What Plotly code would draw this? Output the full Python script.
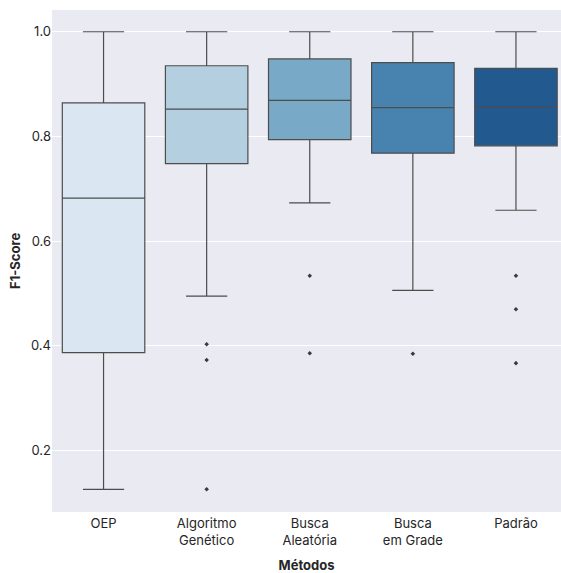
import plotly.graph_objects as go

categories = ["OEP", "Algoritmo<br>Genético", "Busca<br>Aleatória", "Busca<br>em Grade", "Padrão"]
q1 = [0.387, 0.748, 0.794, 0.768, 0.782]
median = [0.682, 0.852, 0.869, 0.855, 0.856]
q3 = [0.864, 0.935, 0.948, 0.941, 0.930]
lower = [0.126, 0.495, 0.673, 0.506, 0.659]
upper = [1.0, 1.0, 1.0, 1.0, 1.0]
outliers = [[], [0.403, 0.373, 0.126], [0.534, 0.386], [0.385], [0.534, 0.470, 0.367]]
colors = ["#dae6f1", "#b3cfe0", "#78a9c7", "#4883b0", "#22598f"]

fig = go.Figure()
for i, cat in enumerate(categories):
    fig.add_trace(go.Box(
        x=[i], q1=[q1[i]], median=[median[i]], q3=[q3[i]],
        lowerfence=[lower[i]], upperfence=[upper[i]],
        fillcolor=colors[i], line=dict(color="#4d4d4d", width=1.2),
        width=0.8, whiskerwidth=0.5, boxpoints=False, showlegend=False,
        hoverinfo="skip",
    ))
    if outliers[i]:
        fig.add_trace(go.Scatter(
            x=[i] * len(outliers[i]), y=outliers[i], mode="markers",
            marker=dict(symbol="diamond", size=3.5, color="#3a3a3a"),
            showlegend=False, hoverinfo="skip",
        ))

font = "Inter, Lato, sans-serif"
fig.update_layout(
    width=561, height=573,
    margin=dict(l=52, r=0, t=10, b=61),
    paper_bgcolor="white", plot_bgcolor="#eaeaf2",
    font=dict(family=font, size=13, color="#262626"),
    xaxis=dict(
        tickmode="array", tickvals=list(range(len(categories))), ticktext=categories,
        range=[-0.5, 4.437], showgrid=False, zeroline=False, ticks="",
        automargin=False, ticklabelstandoff=2,
        title=dict(text="<b>Métodos</b>", font=dict(size=13)),
    ),
    yaxis=dict(
        range=[0.0827, 1.0415], tickvals=[0.2, 0.4, 0.6, 0.8, 1.0],
        tickformat=".1f", gridcolor="white", gridwidth=1, zeroline=False, ticks="",
        automargin=False,
    ),
    annotations=[dict(
        text="<b>F1-Score</b>", textangle=-90, xref="paper", yref="paper",
        x=-37 / 509, y=0.5, xanchor="center", yanchor="middle",
        showarrow=False, font=dict(size=13),
    )],
)
fig.write_html(
    "out.html",
    config={"displayModeBar": False},
    post_script="document.body.style.margin='0';document.body.style.overflow='hidden';",
)
